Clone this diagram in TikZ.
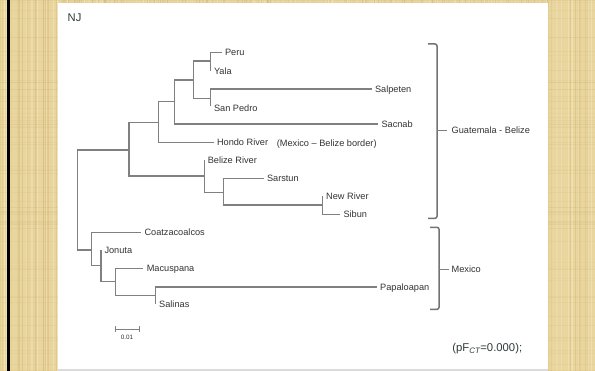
\documentclass[tikz,border=0pt]{standalone}
\usepackage{fontspec}
\setmainfont{Liberation Sans}
\definecolor{bgtan}{HTML}{E9D59E}
\definecolor{bgdark}{HTML}{CFB476}
\definecolor{bglight}{HTML}{F6E8C2}
\definecolor{treegray}{HTML}{808080}
\definecolor{labelgray}{HTML}{333333}
\definecolor{slate}{HTML}{2F3A3A}
\tikzset{
  br/.style={draw=treegray, line width=1.05pt},
  brk/.style={draw=treegray!90!black, line width=1.5pt, rounded corners=2pt},
  leaf/.style={anchor=west, inner sep=0pt, xshift=3.3pt, text=labelgray,
    font=\fontsize{9.2}{10}\selectfont, text height=6.6pt, text depth=0pt},
  grp/.style={anchor=west, inner sep=0pt, text=labelgray,
    font=\fontsize{9.2}{10}\selectfont, text height=6.6pt, text depth=0pt},
}
\begin{document}
\begin{tikzpicture}[x=1pt,y=-1pt]
\useasboundingbox (0,0) rectangle (595,371);
% background texture
\fill[bgtan] (0,0) rectangle (595,371);
\pgfmathsetseed{7}
\foreach \i in {1,...,200} {
  \pgfmathsetmacro{\xx}{rnd*595}
  \pgfmathsetmacro{\op}{0.12+0.3*rnd}
  \draw[bgdark, opacity=\op, line width=0.5pt] (\xx,0) -- (\xx,371);
}
\foreach \i in {1,...,160} {
  \pgfmathsetmacro{\xx}{rnd*595}
  \pgfmathsetmacro{\op}{0.2+0.4*rnd}
  \draw[bglight, opacity=\op, line width=0.6pt] (\xx,0) -- (\xx,371);
}
\foreach \i in {1,...,70} {
  \pgfmathsetmacro{\yy}{rnd*371}
  \pgfmathsetmacro{\op}{0.06+0.15*rnd}
  \draw[bgdark, opacity=\op, line width=0.5pt] (0,\yy) -- (595,\yy);
}
\fill[black] (7,0) rectangle (10,371);
\fill[white] (58.3,3.5) rectangle (548.3,369);
\fill[black!14] (58.3,369) rectangle (548.3,371);

% title
\node[anchor=west, inner sep=0pt, text=slate, font=\fontsize{11.2}{12}\selectfont,
  text height=8pt, text depth=0pt] (nj) at (67.5,18) {NJ};

% internal nodes
\coordinate (r) at (77.7,200);
\coordinate (nG) at (129,150);
\coordinate (nC) at (158.3,122.5);
\coordinate (nB) at (174.3,101.7);
\coordinate (nA) at (193.3,80);
\coordinate (nPY) at (210.5,61);
\coordinate (nSS) at (210.5,98.3);
\coordinate (nBz) at (204.3,176);
\coordinate (nSN) at (223.3,192.3);
\coordinate (nNS) at (322.7,205);
\coordinate (nM) at (91.7,250);
\coordinate (nJ) at (101,265.5);
\coordinate (nMP) at (115.7,281.7);
\coordinate (nPS) at (155.7,295.7);
% tips
\coordinate (tPeru) at (221.5,52.7);
\coordinate (tYala) at (210.5,70.8);
\coordinate (tSalp) at (371.5,89);
\coordinate (tSanP) at (210.5,106.5);
\coordinate (tSacn) at (378,124);
\coordinate (tHondo) at (213.5,142.5);
\coordinate (tBel) at (204.3,160);
\coordinate (tSars) at (263.5,178.5);
\coordinate (tNew) at (322.7,196);
\coordinate (tSib) at (340,214.3);
\coordinate (tCoa) at (141,232.7);
\coordinate (tJon) at (101,250.5);
\coordinate (tMac) at (143.3,268.3);
\coordinate (tPap) at (376.7,287);
\coordinate (tSal) at (155.7,304);

% branches
\foreach \p/\c in {r/nG, r/nM, nG/nC, nG/nBz, nC/nB, nC/tHondo, nB/nA, nB/tSacn,
  nA/nPY, nA/nSS, nPY/tPeru, nPY/tYala, nSS/tSalp, nSS/tSanP,
  nBz/tBel, nBz/nSN, nSN/tSars, nSN/nNS, nNS/tNew, nNS/tSib,
  nM/tCoa, nM/nJ, nJ/tJon, nJ/nMP, nMP/tMac, nMP/nPS, nPS/tPap, nPS/tSal}
  \draw[br] (\p) |- (\c);

% leaf labels
\node[leaf] (lPeru) at (tPeru) {Peru};
\node[leaf] (lYala) at ([yshift=-0.8]tYala) {Yala};
\node[leaf] (lSalp) at (tSalp) {Salpeten};
\node[leaf] (lSanP) at ([yshift=-1.5]tSanP) {San Pedro};
\node[leaf] (lSacn) at (tSacn) {Sacnab};
\node[leaf] (lHondo) at (tHondo) {Hondo River};
\node[grp] (lBorder) at (276.7,143) {(Mexico -- Belize border)};
\node[leaf] (lBel) at (tBel) {Belize River};
\node[leaf] (lSars) at (tSars) {Sarstun};
\node[leaf] (lNew) at (tNew) {New River};
\node[leaf] (lSib) at (tSib) {Sibun};
\node[leaf] (lCoa) at (tCoa) {Coatzacoalcos};
\node[leaf] (lJon) at (tJon) {Jonuta};
\node[leaf] (lMac) at (tMac) {Macuspana};
\node[leaf] (lPap) at (tPap) {Papaloapan};
\node[leaf] (lSal) at ([yshift=-0.7]tSal) {Salinas};

% brackets
\coordinate (gTop) at (428,44);
\coordinate (gBot) at (428,218.3);
\coordinate (gMid) at (437,130.7);
\draw[brk] (gTop) -- (437,44) -- (437,218.3) -- (gBot);
\draw[br, line width=1.4pt] (gMid) -- ++(9.5,0) coordinate (gTick);
\node[grp] (lGB) at ([xshift=5pt]gTick) {Guatemala - Belize};

\coordinate (mTop) at (430,227.3);
\coordinate (mBot) at (430,309.3);
\coordinate (mMid) at (439,269.3);
\draw[brk] (mTop) -- (439,227.3) -- (439,309.3) -- (mBot);
\draw[br, line width=1.4pt] (mMid) -- ++(9.5,0) coordinate (mTick);
\node[grp] (lMX) at ([xshift=3pt]mTick) {Mexico};

% scale bar
\coordinate (sA) at (115,329);
\coordinate (sB) at (139,329);
\draw[br, line width=0.9pt] (sA) -- (sB);
\draw[br, line width=0.9pt] ([yshift=-2.8]sA) -- ([yshift=2.8]sA);
\draw[br, line width=0.9pt] ([yshift=-2.8]sB) -- ([yshift=2.8]sB);
\node[inner sep=0pt, text=labelgray, font=\fontsize{6.3}{7}\selectfont] (sLab) at (127,337.5) {0.01};

% statistic
\node[anchor=west, inner sep=0pt, text=slate, font=\fontsize{11.3}{12}\selectfont,
  text height=8.1pt, text depth=0pt] (pf) at (452.2,347.6)
  {(pF\textsubscript{\itshape CT}=0.000);};
\end{tikzpicture}
\end{document}
